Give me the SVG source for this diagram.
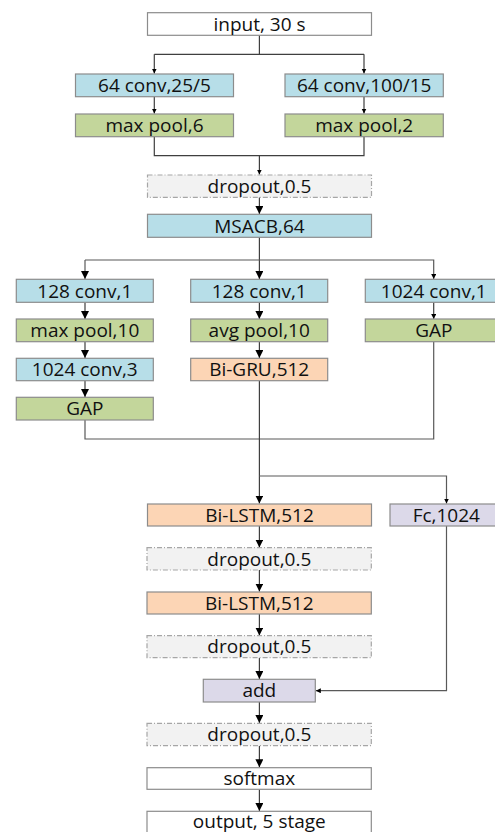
<svg xmlns="http://www.w3.org/2000/svg" width="495" height="832" viewBox="0 0 495 832">
<defs>
<style>
.b{stroke:#8c8c8c;stroke-width:1.2}
.w{fill:#ffffff}
.blue{fill:#b7dee8}
.green{fill:#c3d69b}
.peach{fill:#fcd5b5}
.lav{fill:#dcd9e9}
.drop{fill:#f2f2f2;stroke:#a6a6a6;stroke-width:1.2;stroke-dasharray:5 2 1 2}
text{font-family:"Open Sans","Noto Sans","DejaVu Sans",sans-serif;font-size:19px;fill:#111111;text-anchor:middle}
.c{fill:none;stroke:#3f3f3f;stroke-width:1.2}
.cg{fill:none;stroke:#595959;stroke-width:1.2}
</style>
<marker id="big" markerUnits="userSpaceOnUse" markerWidth="9" markerHeight="9" refX="8" refY="4" orient="auto"><path d="M0,0 L8,4 L0,8 z" fill="#000"/></marker>
<marker id="sm" markerUnits="userSpaceOnUse" markerWidth="6" markerHeight="6" refX="5" refY="2.5" orient="auto"><path d="M0,0 L5,2.5 L0,5 z" fill="#000"/></marker>
</defs>
<rect width="495" height="832" fill="#ffffff"/>
<g id="connectors">
<path class="c" d="M259.4,35.3 V54.3 M154.3,54.3 H364"/>
<path class="c" d="M154.3,54.3 V73.5" marker-end="url(#sm)"/>
<path class="c" d="M364,54.3 V73.5" marker-end="url(#sm)"/>
<path class="c" d="M154.3,96.7 V113.5" marker-end="url(#sm)"/>
<path class="c" d="M364,96.7 V113.5" marker-end="url(#sm)"/>
<path class="c" d="M154.3,136.7 V155.7 H364 V136.7"/>
<path class="c" d="M259.4,155.7 V174.5" marker-end="url(#sm)"/>
<path class="c" d="M259.4,197.3 V214" marker-end="url(#big)"/>
<path class="c" d="M259.4,237.3 V279" marker-end="url(#big)"/>
<path class="cg" d="M85,260 H433.7 V279" marker-end="url(#sm)"/>
<path class="cg" d="M85,260 V279" marker-end="url(#big)"/>
<path class="c" d="M85,302.3 V319" marker-end="url(#big)"/>
<path class="c" d="M85,341.7 V358" marker-end="url(#big)"/>
<path class="c" d="M85,380.7 V397" marker-end="url(#big)"/>
<path class="c" d="M259.4,302.3 V319" marker-end="url(#big)"/>
<path class="c" d="M259.4,341.7 V358" marker-end="url(#big)"/>
<path class="c" d="M433.7,302.3 V319" marker-end="url(#sm)"/>
<path class="cg" d="M85,420 V439 H433.7 V341.7"/>
<path class="c" d="M259.4,380.7 V503.5" marker-end="url(#big)"/>
<path class="cg" d="M259.4,476 H446.5 V503.5" marker-end="url(#sm)"/>
<path class="c" d="M259.4,526 V547.5" marker-end="url(#big)"/>
<path class="c" d="M259.4,570 V591.5" marker-end="url(#big)"/>
<path class="c" d="M259.4,614 V635.5" marker-end="url(#big)"/>
<path class="c" d="M259.4,657.7 V679" marker-end="url(#big)"/>
<path class="cg" d="M446.5,526 V690.7 H315.8" marker-end="url(#sm)"/>
<path class="c" d="M259.4,702 V723" marker-end="url(#big)"/>
<path class="c" d="M259.4,745.7 V767.3" marker-end="url(#big)"/>
<path class="c" d="M259.4,789.3 V811" marker-end="url(#big)"/>
</g>
<g id="input"><rect class="b w" x="147.5" y="12.7" width="224" height="22.6"/><text x="259.5" y="30.8">input, 30 s</text></g>
<g id="conv1"><rect class="b blue" x="75.5" y="74" width="158" height="22.7"/><text x="154.5" y="92.1">64 conv,25/5</text></g>
<g id="conv2"><rect class="b blue" x="285" y="74" width="158.3" height="22.7"/><text x="364.2" y="92.1">64 conv,100/15</text></g>
<g id="pool1"><rect class="b green" x="75.5" y="114" width="158" height="22.7"/><text x="154.5" y="132.1">max pool,6</text></g>
<g id="pool2"><rect class="b green" x="285" y="114" width="158.3" height="22.7"/><text x="364.2" y="132.1">max pool,2</text></g>
<g id="dropout1"><rect class="drop" x="147.5" y="175" width="224" height="22.3"/><text x="259.5" y="192.9">dropout,0.5</text></g>
<g id="msacb"><rect class="b blue" x="147.5" y="214.3" width="224" height="23"/><text x="259.5" y="232.5">MSACB,64</text></g>
<g id="conv128a"><rect class="b blue" x="16.3" y="279.3" width="137" height="23"/><text x="84.8" y="297.5">128 conv,1</text></g>
<g id="conv128b"><rect class="b blue" x="190.7" y="279.3" width="137" height="23"/><text x="259.2" y="297.5">128 conv,1</text></g>
<g id="conv1024a"><rect class="b blue" x="365.3" y="279.3" width="137" height="23"/><text x="433.8" y="297.5">1024 conv,1</text></g>
<g id="maxpool10"><rect class="b green" x="16.3" y="319" width="137" height="22.7"/><text x="84.8" y="337">max pool,10</text></g>
<g id="avgpool10"><rect class="b green" x="190.7" y="319" width="137" height="22.7"/><text x="259.2" y="337">avg pool,10</text></g>
<g id="gap2"><rect class="b green" x="365.3" y="319" width="137" height="22.7"/><text x="433.8" y="337">GAP</text></g>
<g id="conv1024b"><rect class="b blue" x="16.3" y="358.3" width="137" height="22.4"/><text x="84.8" y="376.2">1024 conv,3</text></g>
<g id="bigru"><rect class="b peach" x="190.7" y="358.3" width="137" height="22.4"/><text x="259.2" y="376.2">Bi-GRU,512</text></g>
<g id="gap1"><rect class="b green" x="16.3" y="397.3" width="137" height="22.7"/><text x="84.8" y="415.3">GAP</text></g>
<g id="bilstm1"><rect class="b peach" x="147.5" y="504" width="224" height="22"/><text x="259.5" y="521.7">Bi-LSTM,512</text></g>
<g id="fc"><rect class="b lav" x="390" y="504" width="112.6" height="22"/><text x="446.3" y="521.7">Fc,1024</text></g>
<g id="dropout2"><rect class="drop" x="147" y="547.7" width="224.3" height="22.3"/><text x="259.3" y="565.6">dropout,0.5</text></g>
<g id="bilstm2"><rect class="b peach" x="147" y="592" width="224.3" height="22"/><text x="259.3" y="609.7">Bi-LSTM,512</text></g>
<g id="dropout3"><rect class="drop" x="147" y="635.7" width="224.3" height="22"/><text x="259.3" y="653.4">dropout,0.5</text></g>
<g id="add"><rect class="b lav" x="203.3" y="679.3" width="112" height="22.7"/><text x="259.3" y="697.3">add</text></g>
<g id="dropout4"><rect class="drop" x="147" y="723.3" width="224.3" height="22.4"/><text x="259.3" y="741.2">dropout,0.5</text></g>
<g id="softmax"><rect class="b w" x="147" y="767.7" width="224.3" height="21.6"/><text x="259.3" y="785.2">softmax</text></g>
<g id="output"><rect class="b w" x="147" y="811.3" width="224.3" height="23"/><text x="259.3" y="827.5">output, 5 stage</text></g>
</svg>
